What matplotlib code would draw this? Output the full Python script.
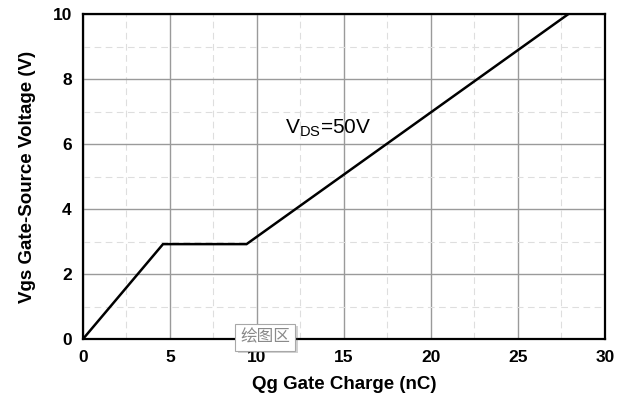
import matplotlib
matplotlib.use('Agg')
import matplotlib.pyplot as plt
import matplotlib.patheffects as pe
from matplotlib.ticker import MultipleLocator

# Gate charge curve
qg  = [0.0, 4.6, 9.4, 27.9]     # nC
vgs = [0.0, 2.92, 2.92, 10.0]   # V

plt.rcParams['font.family'] = ['Liberation Sans', 'DejaVu Sans']
plt.rcParams['mathtext.fontset'] = 'custom'
plt.rcParams['mathtext.rm'] = 'Liberation Sans'

fig = plt.figure(figsize=(6.3, 4.07), dpi=100)
ax = fig.add_axes([0.1317, 0.167, 0.8286, 0.7986])

# ── grid ──────────────────────────────────────────────────────────────────────
ax.xaxis.set_major_locator(MultipleLocator(5))
ax.xaxis.set_minor_locator(MultipleLocator(2.5))
ax.yaxis.set_major_locator(MultipleLocator(2))
ax.yaxis.set_minor_locator(MultipleLocator(1))
ax.grid(which='major', color='#9a9a9a', lw=1.0)
ax.grid(which='minor', color='#dedede', lw=0.8, ls=(0, (6, 4)))
ax.set_axisbelow(True)

ax.plot(qg, vgs, color='black', lw=1.8, solid_joinstyle='miter')

ax.set_xlim(0, 30)
ax.set_ylim(0, 10)
for s in ax.spines.values():
    s.set_linewidth(1.6)
ax.tick_params(which='both', length=0, pad=8, labelsize=12.5)
for lab in ax.get_xticklabels() + ax.get_yticklabels():
    lab.set_fontweight('bold')

ax.set_xlabel('Qg Gate Charge (nC)', fontsize=13.5, fontweight='bold', labelpad=8)
ax.set_ylabel('Vgs Gate-Source Voltage (V)', fontsize=13.5, fontweight='bold', labelpad=12)

ax.text(11.6, 6.5, r'V$_{\rm DS}$=50V', fontsize=15, ha='left', va='center')

# Excel tooltip left in the screenshot
tip = fig.text(265 / 630, 1 - 337 / 407, '绘图区', fontsize=12, color='#8a8a8a',
               ha='center', va='center',
               family=['Noto Sans CJK SC', 'DejaVu Sans'],
               bbox=dict(boxstyle='square,pad=0.3', fc='white', ec='#a8a8a8', lw=0.8))
tip.get_bbox_patch().set_path_effects(
    [pe.SimplePatchShadow(offset=(2, -2), alpha=0.25), pe.Normal()])

fig.savefig('out.png', dpi=100)
